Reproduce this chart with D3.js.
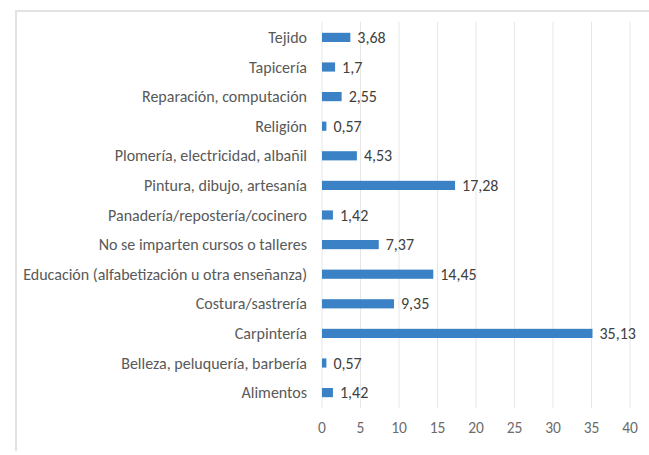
<!DOCTYPE html>
<html>
<head>
<meta charset="utf-8">
<script src="https://cdn.jsdelivr.net/npm/d3@7"></script>
<style>
  body { margin: 0; background: #fff; }
</style>
</head>
<body>
<div id="chart"></div>
<script>
// categories from top to bottom
const categories = [
  "Tejido",
  "Tapicería",
  "Reparación, computación",
  "Religión",
  "Plomería, electricidad, albañil",
  "Pintura, dibujo, artesanía",
  "Panadería/repostería/cocinero",
  "No se imparten cursos o talleres",
  "Educación (alfabetización u otra enseñanza)",
  "Costura/sastrería",
  "Carpintería",
  "Belleza, peluquería, barbería",
  "Alimentos"
]
const values = [3.68, 1.7, 2.55, 0.57, 4.53, 17.28, 1.42, 7.37, 14.45, 9.35, 35.13, 0.57, 1.42]
const valueLabels = ["3,68", "1,7", "2,55", "0,57", "4,53", "17,28", "1,42", "7,37", "14,45", "9,35", "35,13", "0,57", "1,42"]
const xTicks = [0, 5, 10, 15, 20, 25, 30, 35, 40]

const W = 649, H = 455
const plot = { top: 22, bottom: 408, left: 322, right: 630 }
const font = "Carlito, 'Liberation Sans Narrow', 'Open Sans', sans-serif"

const svg = d3.select("#chart").append("svg")
  .attr("width", W)
  .attr("height", H)

// outer frame (right side runs off the picture)
svg.append("path")
  .attr("d", "M16,451 L16,11 L660,11")
  .attr("fill", "none")
  .attr("stroke", "#e3e3e3")
  .attr("stroke-width", 2)

const x = d3.scaleLinear()
  .domain([0, 40])
  .range([plot.left, plot.right])

const y = d3.scaleBand()
  .domain(categories)
  .range([plot.top, plot.bottom])
  .paddingInner(0.69)
  .paddingOuter(0.365)

// vertical gridlines
svg.selectAll(".grid")
  .data(xTicks)
  .enter()
  .append("line")
  .attr("class", "grid")
  .attr("x1", d => x(d))
  .attr("x2", d => x(d))
  .attr("y1", plot.top)
  .attr("y2", plot.bottom)
  .style("stroke", "#e6e6e6")
  .style("stroke-width", "1px")

// x tick labels
svg.selectAll(".xtick")
  .data(xTicks)
  .enter()
  .append("text")
  .attr("class", "xtick")
  .attr("x", d => x(d))
  .attr("y", 433)
  .attr("text-anchor", "middle")
  .style("font-family", font)
  .style("font-size", "15.5px")
  .style("fill", "#6b6b6b")
  .text(d => d)

// category labels
svg.selectAll(".cat")
  .data(categories)
  .enter()
  .append("text")
  .attr("class", "cat")
  .attr("x", plot.left - 15)
  .attr("y", d => y(d) + y.bandwidth() / 2)
  .attr("dy", "0.35em")
  .attr("text-anchor", "end")
  .style("font-family", font)
  .style("font-size", "16px")
  .style("fill", "#595959")
  .text(d => d)

// bars
svg.selectAll(".bar")
  .data(values)
  .enter()
  .append("rect")
  .attr("class", "bar")
  .attr("x", x(0))
  .attr("y", (d, i) => y(categories[i]))
  .attr("width", d => x(d) - x(0))
  .attr("height", y.bandwidth())
  .style("fill", "#3a82c5")

// value labels
svg.selectAll(".val")
  .data(values)
  .enter()
  .append("text")
  .attr("class", "val")
  .attr("x", d => x(d) + 7)
  .attr("y", (d, i) => y(categories[i]) + y.bandwidth() / 2)
  .attr("dy", "0.35em")
  .style("font-family", font)
  .style("font-size", "16px")
  .style("fill", "#404040")
  .text((d, i) => valueLabels[i])
</script>
</body>
</html>
